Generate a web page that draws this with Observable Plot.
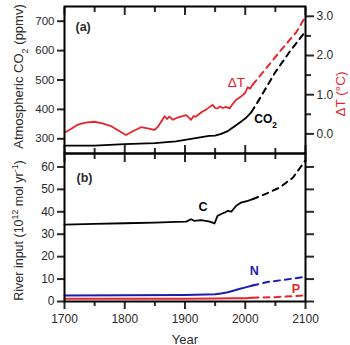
<!DOCTYPE html>
<html><head><meta charset="utf-8">
<script src="https://cdn.jsdelivr.net/npm/d3@7"></script>
<script src="https://cdn.jsdelivr.net/npm/@observablehq/plot@0.6"></script>
<style>
body{margin:0;background:#fff;}
#chart{position:relative;width:350px;height:345px;overflow:hidden;}
#chart svg{position:absolute;left:0;}
</style></head><body><div id="chart"></div>
<script>
// ---- Panel (a): atmospheric CO2 and temperature anomaly ----
const co2Year = [1700,1750,1800,1850,1885,1900,1920,1940,1950,1960,1970,1980,1990,2000,2010];
const co2Val  = [277,277,282,285,291,296,303,310,311,317,325,339,354,369,390];
const co2ProjYear = [2010,2025,2050,2075,2100];
const co2ProjVal  = [390,440,527,600,665];

const tYear = [1700,1710,1721,1735,1749,1763,1777,1790,1802,1815,1827,1838,1849,1855,1860,1866,1870,1874,1880,1885,1890,1895,1902,1906,1910,1914,1918,1923,1929,1935,1941,1946,1950,1954,1958,1963,1968,1974,1979,1985,1990,1996,2000,2004,2008,2012];
const tVal  = [0.03,0.12,0.23,0.29,0.31,0.27,0.20,0.08,-0.03,0.08,0.17,0.14,0.10,0.18,0.30,0.45,0.38,0.44,0.36,0.40,0.43,0.45,0.48,0.42,0.36,0.45,0.44,0.50,0.57,0.62,0.69,0.74,0.66,0.65,0.70,0.66,0.69,0.65,0.76,0.87,0.92,0.99,1.05,1.19,1.15,1.25];
const tProjYear = [2012,2035,2060,2085,2100];
const tProjVal  = [1.25,1.68,2.15,2.60,3.00];

const co2Ticks = [300,400,500,600,700];
const tTicks = [0,1,2,3];
const tMinorTicks = [0.5,1.5,2.5];

// ---- Panel (b): river input ----
const cYear = [1700,1750,1800,1850,1885,1902,1910,1915,1927,1941,1949,1954,1960,1966,1971,1977,1985,1993,2004,2012];
const cVal  = [34.3,34.6,34.9,35.2,35.5,35.6,36.7,36.0,36.3,35.6,34.8,38.2,39.0,39.7,40.4,40.1,42.7,44.1,44.9,45.6];
const cProjYear = [2012,2035,2057,2079,2100];
const cProjVal  = [45.6,48.1,50.8,55.2,63.0];

const nYear = [1700,1800,1900,1950,1960,1971,1980,1990,2002,2012];
const nVal  = [2.7,2.8,2.9,3.2,3.6,4.1,4.8,5.6,6.4,7.1];
const nProjYear = [2012,2035,2068,2100];
const nProjVal  = [7.1,8.6,9.8,11.0];

const pYear = [1700,1900,1950,1980,2000,2012];
const pVal  = [1.2,1.25,1.3,1.4,1.5,1.7];
const pProjYear = [2012,2050,2100];
const pProjVal  = [1.7,1.95,2.7];

const riverTicks = [0,10,20,30,40,50,60];
const majorYears = [1700,1800,1900,2000,2100];
const minorYears = [1750,1850,1950,2050];

// ---- scales ----
const red = "#e4262c", blue = "#1c1cb4", ink = "#2a2a2a";
const font = "'Liberation Sans', Arial, Helvetica, sans-serif";
const cMin = 250, cMax = 750, tMin = -0.5, tMax = 3.25;
const t2c = t => cMin + (t - tMin) * (cMax - cMin) / (tMax - tMin);
const c2t = c => tMin + (c - cMin) * (tMax - tMin) / (cMax - cMin);
const dash = "6,5";
const blank = () => "";

const chart = document.getElementById("chart");

const pa = Plot.plot({
  width: 350, height: 155,
  marginTop: 6, marginBottom: 2, marginLeft: 64, marginRight: 45,
  style: {background: "transparent", overflow: "visible", fontFamily: font, fontSize: "12px", color: ink},
  x: {domain: [1700, 2100]},
  y: {domain: [cMin, cMax]},
  marks: [
    Plot.axisY({ticks: co2Ticks, tickSize: 7, tickPadding: 3, strokeWidth: 2, label: null, tickFormat: d => String(d), fontSize: 11.5}),
    Plot.axisY({anchor: "right", ticks: tTicks.map(t2c), tickSize: 8, tickPadding: 3, strokeWidth: 2, label: null, tickFormat: v => c2t(v).toFixed(1)}),
    Plot.axisY({anchor: "right", ticks: tMinorTicks.map(t2c), tickSize: 5, strokeWidth: 2, label: null, tickFormat: blank}),
    Plot.axisX({anchor: "top", ticks: majorYears, tickSize: 8, dy: 8, strokeWidth: 2, label: null, tickFormat: blank}),
    Plot.axisX({anchor: "top", ticks: minorYears, tickSize: 5, dy: 5, strokeWidth: 2, label: null, tickFormat: blank}),
    Plot.axisX({anchor: "bottom", ticks: majorYears, tickSize: 8, dy: -8, strokeWidth: 2, label: null, tickFormat: blank}),
    Plot.axisX({anchor: "bottom", ticks: minorYears, tickSize: 5, dy: -5, strokeWidth: 2, label: null, tickFormat: blank}),
    Plot.line(co2Year, {x: co2Year, y: co2Val, stroke: "black", strokeWidth: 1.8}),
    Plot.line(co2ProjYear, {x: co2ProjYear, y: co2ProjVal, stroke: "black", strokeWidth: 2, strokeDasharray: dash}),
    Plot.line(tYear, {x: tYear, y: tVal.map(t2c), stroke: red, strokeWidth: 1.8}),
    Plot.line(tProjYear, {x: tProjYear, y: tProjVal.map(t2c), stroke: red, strokeWidth: 2, strokeDasharray: dash}),
    Plot.text(["(a)"], {frameAnchor: "top-left", dx: 11, dy: 16, fontWeight: "bold", fontSize: 12.5, textAnchor: "start", fill: ink}),
    Plot.text(["ΔT"], {x: [1971], y: [490], fill: red, fontSize: 13.5, textAnchor: "start"}),
    Plot.text(["CO2"], {x: [2015], y: [367], fill: "black", fontWeight: "bold", fontSize: 12, textAnchor: "start"}),
    Plot.text(["Atmospheric CO2 (ppmv)"], {frameAnchor: "left", rotate: -90, dx: -46, dy: -3.5, fontSize: 13, fill: ink, textAnchor: "middle"}),
    Plot.text(["ΔT (°C)"], {frameAnchor: "right", rotate: -90, dx: 35, dy: 14, fontSize: 13.5, fill: red, textAnchor: "middle"}),
    Plot.frame({stroke: "black", strokeWidth: 2})
  ]
});
pa.style.top = "0px";
chart.appendChild(pa);

const pb = Plot.plot({
  width: 350, height: 202,
  marginTop: 10, marginBottom: 44, marginLeft: 64, marginRight: 45,
  style: {background: "transparent", overflow: "visible", fontFamily: font, fontSize: "12px", color: ink},
  x: {domain: [1700, 2100]},
  y: {domain: [0, 66]},
  marks: [
    Plot.axisY({ticks: riverTicks, tickSize: 7, tickPadding: 3, strokeWidth: 2, label: null, tickFormat: d => String(d)}),
    Plot.axisY({anchor: "right", ticks: riverTicks, tickSize: 8, strokeWidth: 2, label: null, tickFormat: blank}),
    Plot.axisX({anchor: "bottom", ticks: majorYears, tickSize: 8, tickPadding: 5, strokeWidth: 2, label: null, tickFormat: d => String(d)}),
    Plot.axisX({anchor: "bottom", ticks: minorYears, tickSize: 5, strokeWidth: 2, label: null, tickFormat: blank}),
    Plot.axisX({anchor: "top", ticks: majorYears, tickSize: 8, dy: 8, strokeWidth: 2, label: null, tickFormat: blank}),
    Plot.axisX({anchor: "top", ticks: minorYears, tickSize: 5, dy: 5, strokeWidth: 2, label: null, tickFormat: blank}),
    Plot.line(pYear, {x: pYear, y: pVal, stroke: red, strokeWidth: 2}),
    Plot.line(pProjYear, {x: pProjYear, y: pProjVal, stroke: red, strokeWidth: 2, strokeDasharray: dash}),
    Plot.line(nYear, {x: nYear, y: nVal, stroke: blue, strokeWidth: 2}),
    Plot.line(nProjYear, {x: nProjYear, y: nProjVal, stroke: blue, strokeWidth: 2, strokeDasharray: dash}),
    Plot.line(cYear, {x: cYear, y: cVal, stroke: "black", strokeWidth: 1.8}),
    Plot.line(cProjYear, {x: cProjYear, y: cProjVal, stroke: "black", strokeWidth: 2, strokeDasharray: dash}),
    Plot.text(["(b)"], {frameAnchor: "top-left", dx: 12, dy: 20, fontWeight: "bold", fontSize: 12.5, textAnchor: "start", fill: ink}),
    Plot.text(["C"], {x: [1930], y: [42], fill: "black", fontWeight: "bold", fontSize: 12.5}),
    Plot.text(["N"], {x: [2015], y: [13.6], fill: blue, fontWeight: "bold", fontSize: 12.5}),
    Plot.text(["P"], {x: [2084], y: [5.5], fill: red, fontWeight: "bold", fontSize: 12.5}),
    Plot.text(["River input (10^12 mol yr^-1)"], {frameAnchor: "left", rotate: -90, dx: -46, dy: 3, fontSize: 12.5, fill: ink, textAnchor: "middle"}),
    Plot.text(["Year"], {frameAnchor: "bottom", dy: 42, fontSize: 13, fill: ink, textAnchor: "middle"}),
    Plot.frame({stroke: "black", strokeWidth: 2})
  ]
});
pb.style.top = "143px";
chart.appendChild(pb);

// rich text: sub/superscripts as tspans
function rich(svg, raw, parts) {
  d3.select(svg).selectAll("text").each(function() {
    if (this.textContent !== raw) return;
    const t = d3.select(this).text(null);
    for (const [s, kind] of parts) {
      const sp = t.append("tspan").text(s);
      if (kind === "sup") sp.attr("baseline-shift", "super").attr("font-size", "70%");
      if (kind === "sub") sp.attr("baseline-shift", "sub").attr("font-size", "70%");
    }
  });
}
rich(pa, "CO2", [["CO"], ["2", "sub"]]);
rich(pa, "Atmospheric CO2 (ppmv)", [["Atmospheric CO"], ["2", "sub"], [" (ppmv)"]]);
rich(pb, "River input (10^12 mol yr^-1)", [["River input (10"], ["12", "sup"], [" mol yr"], ["-1", "sup"], [")"]]);
</script></body></html>
